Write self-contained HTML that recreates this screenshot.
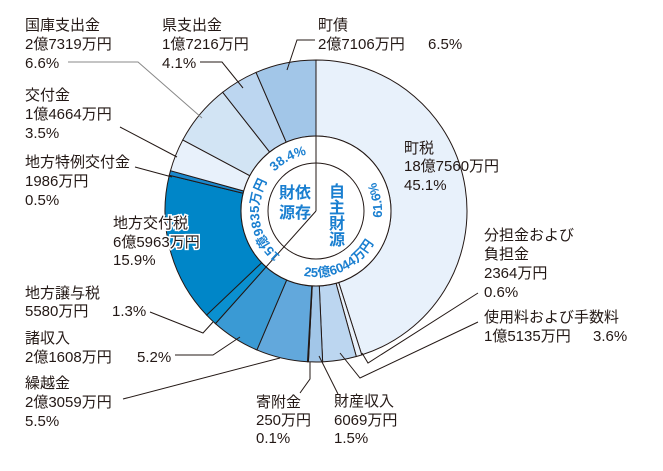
<!DOCTYPE html>
<html><head><meta charset="utf-8">
<style>
html,body{margin:0;padding:0;background:#fff;}
svg{display:block;}
.lb{font-family:"Liberation Sans","Noto Sans CJK JP",sans-serif;font-size:15px;fill:#231815;}
.bl{font-family:"Liberation Sans","Noto Sans CJK JP",sans-serif;fill:#1a7fd0;font-weight:bold;}
</style></head>
<body>
<svg id="chart" width="663" height="471" viewBox="0 0 663 471" xmlns="http://www.w3.org/2000/svg">
<g id="segs"></g>
<g id="inner">
  <circle cx="316" cy="211" r="75" fill="#fff" stroke="#231815" stroke-width="1"/>
  <circle cx="316" cy="211" r="48" fill="#fff" stroke="#231815" stroke-width="1"/>
  <defs>
    <path id="pL1" d=""/><path id="pL2" d=""/><path id="pR1" d=""/><path id="pR2" d=""/>
  </defs>
  <text class="bl" font-size="13"><textPath href="#pL1" startOffset="50%" text-anchor="middle">38.4%</textPath></text>
  <text class="bl" font-size="13"><textPath href="#pL2" startOffset="50%" text-anchor="middle">15億9835万円</textPath></text>
  <text class="bl" font-size="13"><textPath href="#pR1" startOffset="50%" text-anchor="middle">61.6%</textPath></text>
  <text class="bl" font-size="13"><textPath href="#pR2" startOffset="50%" text-anchor="middle">25億6044万円</textPath></text>
  <text class="bl" font-size="16" x="295" y="198" text-anchor="middle">財依</text>
  <text class="bl" font-size="16" x="295" y="218" text-anchor="middle">源存</text>
  <text class="bl" font-size="16" x="337" y="197" text-anchor="middle">自</text>
  <text class="bl" font-size="16" x="337" y="213" text-anchor="middle">主</text>
  <text class="bl" font-size="16" x="337" y="229" text-anchor="middle">財</text>
  <text class="bl" font-size="16" x="337" y="245" text-anchor="middle">源</text>
</g>
<g id="leaders" fill="none" stroke="#231815" stroke-width="1">
  <polyline points="68,62 138,62 202,118" stroke="#888"/>
  <polyline points="200,62 222,62 243,88"/>
  <polyline points="315,40 297,40 287,70"/>
  <polyline points="120,127 177,157"/>
  <polyline points="135,167 172,177"/>
  <polyline points="150,312 203,333 213,322"/>
  <polyline points="175,355 213,355 240,337"/>
  <polyline points="123,399 280,358"/>
  <polyline points="300,393 310,379 310,362"/>
  <polyline points="319,356 338,394"/>
  <polyline points="478,293 368,363 362,353"/>
  <polyline points="478,322 360,378 340,353"/>
</g>
<g id="labels">
  <text class="lb"><tspan x="25" y="30">国庫支出金</tspan><tspan x="25" y="49">2億7319万円</tspan><tspan x="25" y="68">6.6%</tspan></text>
  <text class="lb"><tspan x="162" y="30">県支出金</tspan><tspan x="162" y="49">1億7216万円</tspan><tspan x="162" y="68">4.1%</tspan></text>
  <text class="lb"><tspan x="318" y="30">町債</tspan><tspan x="318" y="49">2億7106万円</tspan><tspan x="428" y="49">6.5%</tspan></text>
  <text class="lb"><tspan x="25" y="100">交付金</tspan><tspan x="25" y="119">1億4664万円</tspan><tspan x="25" y="138">3.5%</tspan></text>
  <text class="lb"><tspan x="25" y="167">地方特例交付金</tspan><tspan x="25" y="186">1986万円</tspan><tspan x="25" y="205">0.5%</tspan></text>
  <text class="lb" stroke="#fff" stroke-width="3" paint-order="stroke"><tspan x="113" y="228">地方交付税</tspan><tspan x="113" y="247">6億5963万円</tspan><tspan x="113" y="265">15.9%</tspan></text>
  <text class="lb"><tspan x="25" y="298">地方譲与税</tspan><tspan x="25" y="316">5580万円</tspan><tspan x="112" y="316">1.3%</tspan></text>
  <text class="lb"><tspan x="25" y="343">諸収入</tspan><tspan x="25" y="362">2億1608万円</tspan><tspan x="137" y="362">5.2%</tspan></text>
  <text class="lb"><tspan x="25" y="388">繰越金</tspan><tspan x="25" y="407">2億3059万円</tspan><tspan x="25" y="426">5.5%</tspan></text>
  <text class="lb"><tspan x="256" y="407">寄附金</tspan><tspan x="256" y="425">250万円</tspan><tspan x="256" y="443">0.1%</tspan></text>
  <text class="lb"><tspan x="334" y="406">財産収入</tspan><tspan x="334" y="425">6069万円</tspan><tspan x="334" y="443">1.5%</tspan></text>
  <text class="lb"><tspan x="404" y="153">町税</tspan><tspan x="404" y="171">18億7560万円</tspan><tspan x="404" y="190">45.1%</tspan></text>
  <text class="lb"><tspan x="484" y="240">分担金および</tspan><tspan x="484" y="259">負担金</tspan><tspan x="484" y="278">2364万円</tspan><tspan x="484" y="297">0.6%</tspan></text>
  <text class="lb"><tspan x="484" y="322">使用料および手数料</tspan><tspan x="484" y="341">1億5135万円</tspan><tspan x="593" y="341">3.6%</tspan></text>
</g>
</svg>
<script>
const categories = ["町税","分担金および負担金","使用料および手数料","財産収入","寄附金","繰越金","諸収入","地方譲与税","地方交付税","地方特例交付金","交付金","国庫支出金","県支出金","町債"];
const amounts = ["18億7560万円","2364万円","1億5135万円","6069万円","250万円","2億3059万円","2億1608万円","5580万円","6億5963万円","1986万円","1億4664万円","2億7319万円","1億7216万円","2億7106万円"];
const percents = [45.1,0.6,3.6,1.5,0.1,5.5,5.2,1.3,15.9,0.5,3.5,6.6,4.1,6.5];
const colors = ["#e8f1fb","#e8f1fb","#bcd6f0","#a2c6e8","#a2c6e8","#62a8dc","#3a9ad4","#0a90d0","#0086c8","#1a88cc","#e8f1fb","#d2e4f4","#bcd6f0","#a2c6e8"];
const groupPercents = [61.6,38.4];

const NS="http://www.w3.org/2000/svg";
const cx=316, cy=211, R0=75, R1=151;
const total = percents.reduce((a,b)=>a+b,0);
function angle(v){return v/total*2*Math.PI;}
function pt(r,a){return [cx+r*Math.sin(a), cy-r*Math.cos(a)];}
const g=document.getElementById('segs');
let acc=0;
percents.forEach((p,i)=>{
  const a0=angle(acc), a1=angle(acc+p); acc+=p;
  const large=(a1-a0)>Math.PI?1:0;
  const [x0,y0]=pt(R1,a0),[x1,y1]=pt(R1,a1),[x2,y2]=pt(R0,a1),[x3,y3]=pt(R0,a0);
  const path=document.createElementNS(NS,'path');
  path.setAttribute('d',`M${x0},${y0} A${R1},${R1} 0 ${large} 1 ${x1},${y1} L${x2},${y2} A${R0},${R0} 0 ${large} 0 ${x3},${y3} Z`);
  path.setAttribute('fill',colors[i]);
  path.setAttribute('stroke','#231815');
  path.setAttribute('stroke-width','1');
  
  
  const t=document.createElementNS(NS,'title'); t.textContent=categories[i]+' '+amounts[i]+' '+p+'%';
  path.appendChild(t);
  g.appendChild(path);
});
// inner divider lines
const inner=document.getElementById('inner');
const divA=[0, angle(groupPercents[0]/100*total)];
divA.forEach((a,i)=>{
  const [x,y]=pt(R0,a);
  const l=document.createElementNS(NS,'line');
  l.setAttribute('x1',cx);l.setAttribute('y1',cy);l.setAttribute('x2',x);l.setAttribute('y2',y);
  l.setAttribute('stroke','#231815');l.setAttribute('stroke-width','1');
  
  
  inner.insertBefore(l, inner.children[2]);
});
// text arcs
function arcCW(r,c,span){const a0=(c-span)*Math.PI/180,a1=(c+span)*Math.PI/180;const [x0,y0]=pt(r,a0),[x1,y1]=pt(r,a1);return `M${x0},${y0} A${r},${r} 0 0 1 ${x1},${y1}`;}
function arcCCW(r,c,span){const a0=(c+span)*Math.PI/180,a1=(c-span)*Math.PI/180;const [x0,y0]=pt(r,a0),[x1,y1]=pt(r,a1);return `M${x0},${y0} A${r},${r} 0 0 0 ${x1},${y1}`;}
document.getElementById('pL1').setAttribute('d',arcCW(57,-28,80));
document.getElementById('pL2').setAttribute('d',arcCW(57,-100,80));
document.getElementById('pR1').setAttribute('d',arcCCW(66,80,80));
document.getElementById('pR2').setAttribute('d',arcCCW(66,155,80));
</script>
</body></html>
